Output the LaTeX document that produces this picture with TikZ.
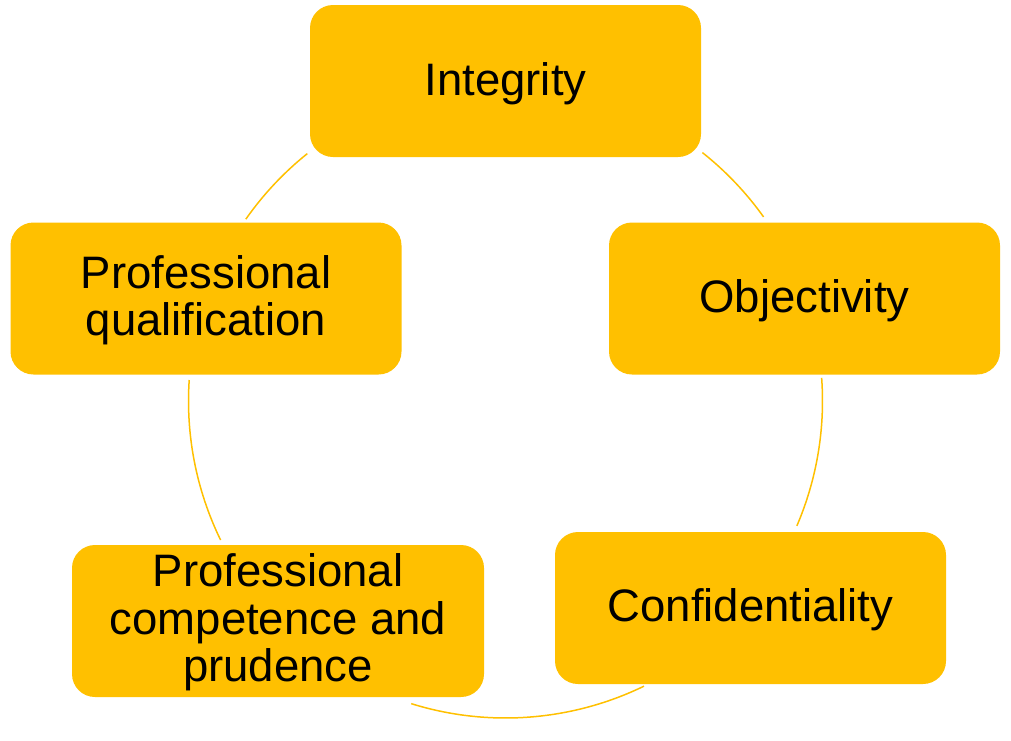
\documentclass[tikz,border=0pt]{standalone}
\usepackage{fontspec}
\setmainfont{Liberation Sans}
\definecolor{gold}{HTML}{FFC000}
\begin{document}
\begin{tikzpicture}[x=1pt,y=-1pt,
  stepbox/.style={fill=gold, draw=none, rounded corners=23pt, minimum width=391pt, minimum height=152pt, inner sep=0pt},
  steptext/.style={inner sep=0pt, align=center, font=\fontsize{45.5}{47.5}\selectfont, text=black},
  cyclearc/.style={draw=gold, line width=1.5pt}]
\useasboundingbox (0,0) rectangle (1011,740);
\coordinate (ctr) at (505.5,401);
\node[stepbox] (integ) at (505.5,81) {};
\node[stepbox] (obj) at (804.5,298.5) {};
\node[stepbox] (conf) at (750.5,608) {};
\node[stepbox, minimum width=412pt] (comp) at (278,621) {};
\node[stepbox] (qual) at (206,298.5) {};
\node[steptext] (integT) at ([yshift=-2.5pt]integ.center) {Integrity};
\node[steptext] (objT) at ([yshift=-2.5pt]obj.center) {Objectivity};
\node[steptext] (confT) at ([yshift=-2pt]conf.center) {Confidentiality};
\node[steptext] (compT) at ([yshift=-1.5pt]comp.center) {Professional\\competence and\\prudence};
\node[steptext] (qualT) at ([yshift=-1.5pt]qual.center) {Professional\\qualification};
\draw[cyclearc] (ctr) ++(-51.6:317) arc[start angle=-51.6, end angle=-35.5, radius=317];
\draw[cyclearc] (ctr) ++(-4.2:317) arc[start angle=-4.2, end angle=23.2, radius=317];
\draw[cyclearc] (ctr) ++(64.1:317) arc[start angle=64.1, end angle=107.3, radius=317];
\draw[cyclearc] (ctr) ++(154:317) arc[start angle=154, end angle=183.8, radius=317];
\draw[cyclearc] (ctr) ++(-145:317) arc[start angle=-145, end angle=-128.7, radius=317];
\end{tikzpicture}
\end{document}
